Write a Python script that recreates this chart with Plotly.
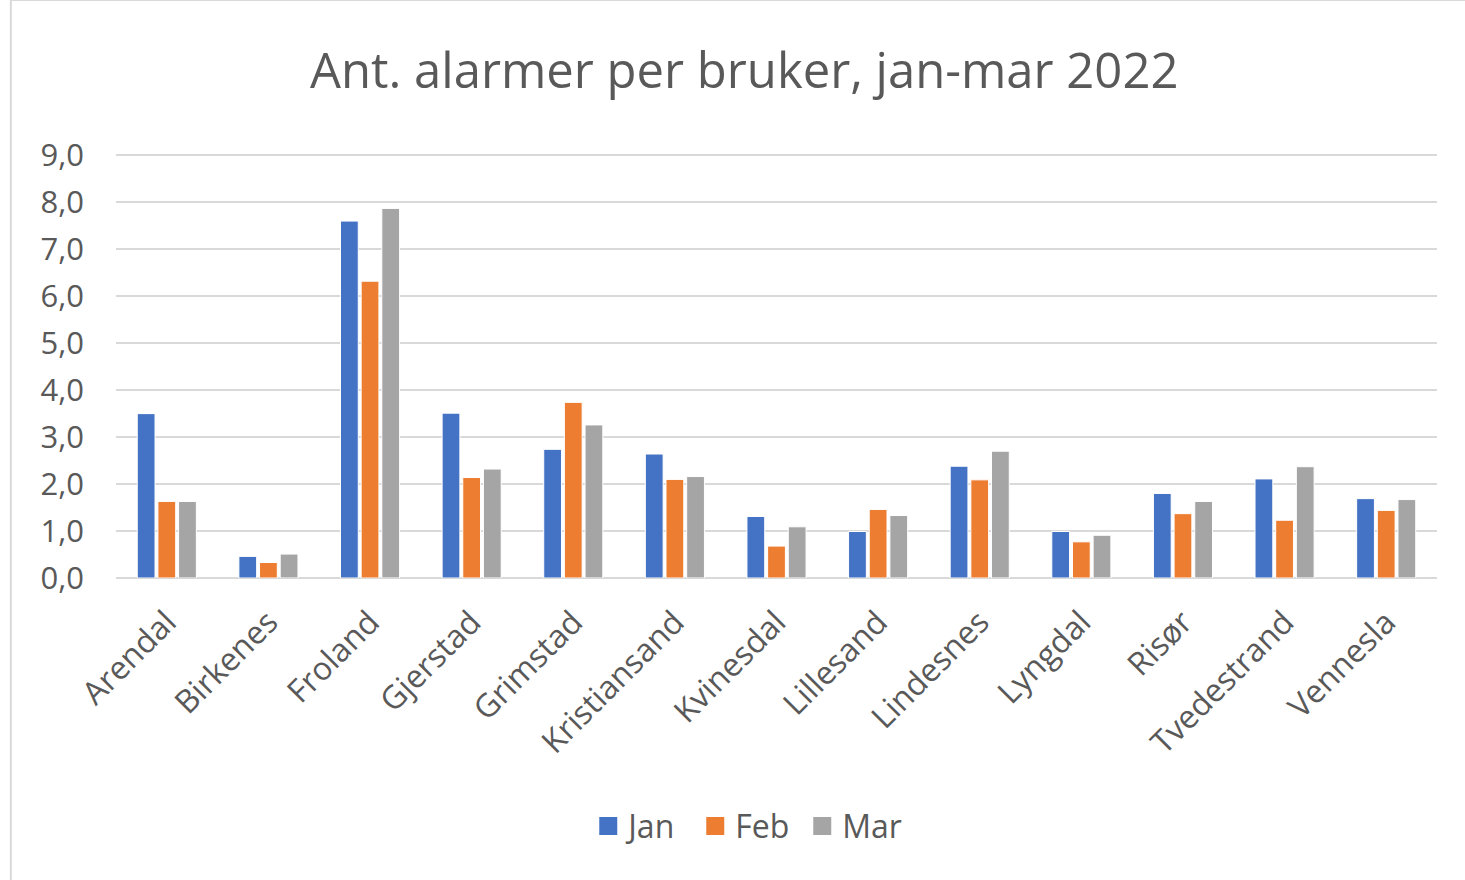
import plotly.graph_objects as go

categories = ["Arendal", "Birkenes", "Froland", "Gjerstad", "Grimstad", "Kristiansand",
              "Kvinesdal", "Lillesand", "Lindesnes", "Lyngdal", "Risør", "Tvedestrand", "Vennesla"]
jan = [3.50, 0.46, 7.60, 3.51, 2.74, 2.64, 1.31, 0.99, 2.38, 0.99, 1.80, 2.11, 1.69]
feb = [1.63, 0.33, 6.32, 2.14, 3.74, 2.10, 0.68, 1.46, 2.09, 0.77, 1.37, 1.23, 1.44]
mar = [1.63, 0.51, 7.87, 2.32, 3.26, 2.16, 1.09, 1.33, 2.70, 0.91, 1.63, 2.37, 1.67]
series_names = ["Jan", "Feb", "Mar"]
y_ticks = [0, 1, 2, 3, 4, 5, 6, 7, 8, 9]
title_text = "Ant. alarmer per bruker, jan-mar 2022"

colors = ["#4472C4", "#ED7D31", "#A5A5A5"]
FONT = "Open Sans"
TXT = "#595959"

fig = go.Figure()
for name, vals, col in zip(series_names, [jan, feb, mar], colors):
    fig.add_trace(go.Bar(x=categories, y=vals, name=name, showlegend=False,
                         legendgroup=name,
                         marker=dict(color=col, line=dict(color="white", width=1))))
# legend entries with larger square swatches
for name, col in zip(series_names, colors):
    fig.add_trace(go.Scatter(x=[None], y=[None], mode="markers", name=name,
                             legendgroup=name,
                             marker=dict(symbol="square", size=16, color=col,
                                         line=dict(color=col, width=2))))

ymax = 9.05
fig.update_layout(
    width=1465, height=880,
    paper_bgcolor="white", plot_bgcolor="white",
    margin=dict(l=116, r=28, t=153, b=302),
    separators=", ",
    barmode="group", bargap=0.39, bargroupgap=0.14,
    title=dict(text=title_text, x=0.508, xanchor="center", y=0.92, yanchor="middle",
               font=dict(family=FONT, size=49, color=TXT)),
    font=dict(family=FONT, color=TXT),
    legend=dict(orientation="h", x=0.479, xanchor="center", y=-0.584, yanchor="middle",
                font=dict(family=FONT, size=32, color=TXT), itemwidth=30,
                entrywidth=62, entrywidthmode="pixels",
                itemsizing="trace", traceorder="normal"),
    xaxis=dict(tickangle=-45, tickfont=dict(family=FONT, size=32, color=TXT),
               showgrid=False, showline=False, ticks="", ticklabelstandoff=18),
    yaxis=dict(range=[0, ymax], tickvals=y_ticks, tickformat=".1f",
               tickfont=dict(family=FONT, size=31, color=TXT),
               showgrid=True, gridcolor="#D9D9D9", gridwidth=2,
               zeroline=True, zerolinecolor="#D9D9D9", zerolinewidth=2,
               showline=False, ticks="", ticklabelstandoff=31),
    shapes=[dict(type="rect", xref="paper", yref="paper",
                 x0=-0.0796, x1=1.2, y0=-0.8, y1=1.36,
                 line=dict(color="#D9D9D9", width=2), layer="below")],
)

fig.write_html("out.html", config={"displayModeBar": False},
               post_script="document.body.style.margin='0';document.body.style.overflow='hidden';")
